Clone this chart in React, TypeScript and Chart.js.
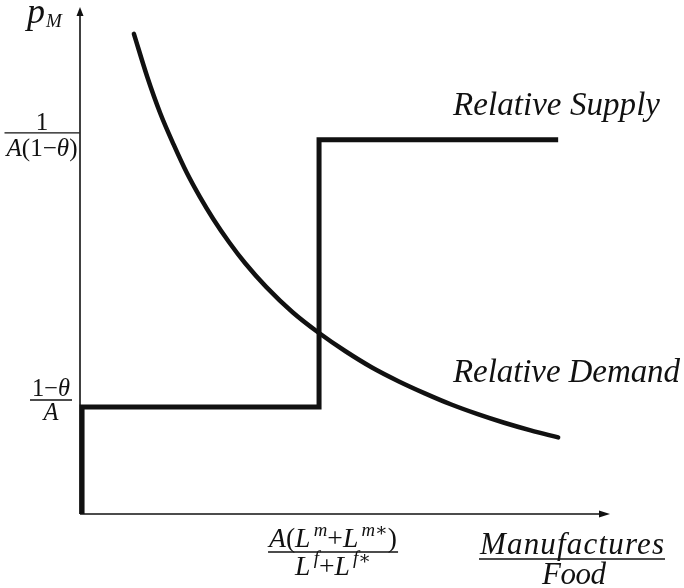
import React, { useEffect, useRef } from "react";
import { Chart, registerables } from "chart.js";

Chart.register(...registerables);

// ---- data (abstract units: x 0..100, y 0..100) ----
const xRange = [0, 100];
const yRange = [0, 100];

// Relative Supply (step function)
const supplyX = [0.2, 0.2, 45.0, 45.0, 90.2];
const supplyY = [0, 21.1, 21.1, 73.8, 73.8];

// Relative Demand (downward sloping curve)
const demandX = [10, 12.5, 15, 17.5, 20, 22.5, 25, 28, 31, 35, 40, 45, 50, 55, 60, 65, 70, 75, 80, 85, 90.2];
const demandY = [94.7, 86.3, 79.0, 72.9, 67.3, 62.5, 58.2, 53.6, 49.5, 44.8, 39.8, 35.7, 32.1, 28.9, 26.2, 23.8, 21.6, 19.7, 18.0, 16.5, 15.1];

// tick positions (levels of the step / location of the jump)
const yTickValues = [73.8, 21.1];
const xTickValues = [45.0];

const seriesLabels = ["Relative Supply", "Relative Demand"];
const axisTitleY = ["p", "M"];
const axisTitleX = ["Manufactures", "Food"];

type Seg = { t: string; it?: boolean; sup?: boolean; sub?: boolean };

// y tick labels as fractions [numerator, denominator]
const yTickLabels: Seg[][][] = [
  [[{ t: "1" }], [{ t: "A", it: true }, { t: "(1" }, { t: "−" }, { t: "θ", it: true }, { t: ")" }]],
  [[{ t: "1" }, { t: "−" }, { t: "θ", it: true }], [{ t: "A", it: true }]],
];
// x tick label as fraction
const xTickLabels: Seg[][][] = [
  [
    [
      { t: "A", it: true }, { t: "(" }, { t: "L", it: true }, { t: "m", it: true, sup: true },
      { t: "+" }, { t: "L", it: true }, { t: "m∗", it: true, sup: true }, { t: ")" },
    ],
    [
      { t: "L", it: true }, { t: "f", it: true, sup: true }, { t: "+" }, { t: "L", it: true },
      { t: "f∗", it: true, sup: true },
    ],
  ],
];

const FONT = '"Liberation Serif", "DejaVu Serif", serif';

function segFont(s: Seg, size: number) {
  const sz = s.sup || s.sub ? size * 0.68 : size;
  return `${s.it ? "italic " : ""}${sz}px ${FONT}`;
}

function segPad(s: Seg, size: number) {
  return s.sup ? size * 0.12 : 0;
}

function richWidth(ctx: CanvasRenderingContext2D, segs: Seg[], size: number) {
  let w = 0;
  for (const s of segs) {
    ctx.font = segFont(s, size);
    w += ctx.measureText(s.t).width + segPad(s, size);
  }
  return w;
}

function drawRich(ctx: CanvasRenderingContext2D, segs: Seg[], cx: number, baseline: number, size: number) {
  const total = richWidth(ctx, segs, size);
  let x = cx - total / 2;
  ctx.textAlign = "left";
  ctx.textBaseline = "alphabetic";
  for (const s of segs) {
    ctx.font = segFont(s, size);
    const dy = s.sup ? -size * 0.4 : s.sub ? size * 0.28 : 0;
    x += segPad(s, size);
    ctx.fillText(s.t, x, baseline + dy);
    x += ctx.measureText(s.t).width;
  }
  return total;
}

function drawFraction(
  ctx: CanvasRenderingContext2D,
  frac: Seg[][],
  cx: number,
  barY: number,
  targetW: number,
  fitIdx: number,
  barW: number,
  numGap: number,
  denGap: number
) {
  const w20 = richWidth(ctx, frac[fitIdx], 20);
  const size = (20 * targetW) / w20;
  drawRich(ctx, frac[0], cx, barY - numGap, size);
  drawRich(ctx, frac[1], cx, barY + denGap, size);
  ctx.save();
  ctx.strokeStyle = "#111";
  ctx.lineWidth = 1.3;
  ctx.beginPath();
  ctx.moveTo(cx - barW / 2, barY);
  ctx.lineTo(cx + barW / 2, barY);
  ctx.stroke();
  ctx.restore();
}

function spacedText(
  ctx: CanvasRenderingContext2D,
  text: string,
  x: number,
  baseline: number,
  size: number,
  width: number,
  align: "left" | "center"
) {
  const c: any = ctx;
  c.letterSpacing = "0px";
  ctx.font = `italic ${size}px ${FONT}`;
  const w = ctx.measureText(text).width;
  const ls = text.length > 1 ? (width - w) / (text.length - 1) : 0;
  c.letterSpacing = `${ls}px`;
  ctx.textAlign = "left";
  ctx.textBaseline = "alphabetic";
  const startX = align === "center" ? x - width / 2 : x;
  ctx.fillText(text, startX, baseline);
  c.letterSpacing = "0px";
}

const decorPlugin = {
  id: "decor",
  beforeDatasetsDraw(chart: any) {
    const ctx: CanvasRenderingContext2D = chart.ctx;
    const xs = chart.scales.x;
    const ys = chart.scales.y;
    const x0 = xs.getPixelForValue(xRange[0]) - 1;
    const y0 = ys.getPixelForValue(yRange[0]);
    const xEnd = xs.getPixelForValue(xRange[1]);
    const yTop = ys.getPixelForValue(yRange[1]);
    ctx.save();
    ctx.strokeStyle = "#111";
    ctx.fillStyle = "#111";
    ctx.lineWidth = 1.6;
    // y axis
    ctx.beginPath();
    ctx.moveTo(x0, y0);
    ctx.lineTo(x0, yTop + 6);
    ctx.stroke();
    ctx.beginPath();
    ctx.moveTo(x0, yTop);
    ctx.lineTo(x0 - 3.5, yTop + 9);
    ctx.lineTo(x0 + 3.5, yTop + 9);
    ctx.closePath();
    ctx.fill();
    // x axis
    ctx.beginPath();
    ctx.moveTo(x0, y0);
    ctx.lineTo(xEnd - 6, y0);
    ctx.stroke();
    ctx.beginPath();
    ctx.moveTo(xEnd, y0);
    ctx.lineTo(xEnd - 11, y0 - 3.5);
    ctx.lineTo(xEnd - 11, y0 + 3.5);
    ctx.closePath();
    ctx.fill();
    ctx.restore();
  },
  afterDraw(chart: any) {
    const ctx: CanvasRenderingContext2D = chart.ctx;
    const xs = chart.scales.x;
    const ys = chart.scales.y;
    ctx.save();
    ctx.fillStyle = "#111";

    // y axis title p_M
    ctx.font = `italic 36px ${FONT}`;
    ctx.textAlign = "left";
    ctx.textBaseline = "alphabetic";
    ctx.fillText(axisTitleY[0], 27, 23);
    const pw = ctx.measureText(axisTitleY[0]).width;
    ctx.font = `italic 19px ${FONT}`;
    ctx.fillText(axisTitleY[1], 27 + pw + 1, 27);

    // y tick fractions
    const yb0 = ys.getPixelForValue(yTickValues[0]) - 7;
    drawFraction(ctx, yTickLabels[0], 42, yb0, 71, 1, 75, 3, 23);
    const yb1 = ys.getPixelForValue(yTickValues[1]) - 7;
    drawFraction(ctx, yTickLabels[1], 51, yb1, 38, 0, 42, 4, 20);

    // x tick fraction
    const xp = xs.getPixelForValue(xTickValues[0]) + 14;
    drawFraction(ctx, xTickLabels[0], xp, 552, 128, 0, 130, 5, 23);

    // x axis title (fraction)
    const cx = 572;
    spacedText(ctx, axisTitleX[0], cx, 554, 31, 184, "center");
    spacedText(ctx, axisTitleX[1], cx + 2, 584, 31, 64, "center");
    ctx.strokeStyle = "#111";
    ctx.lineWidth = 1.4;
    ctx.beginPath();
    ctx.moveTo(479, 559);
    ctx.lineTo(665, 559);
    ctx.stroke();

    // series labels
    spacedText(ctx, seriesLabels[0], 453, 115, 33, 207, "left");
    spacedText(ctx, seriesLabels[1], 453, 382, 33, 227, "left");
    ctx.restore();
  },
};

export default function App() {
  const ref = useRef<HTMLCanvasElement | null>(null);
  useEffect(() => {
    if (!ref.current) return;
    const supplyData = supplyX.map((x, i) => ({ x, y: supplyY[i] }));
    const demandData = demandX.map((x, i) => ({ x, y: demandY[i] }));
    const chart = new Chart(ref.current, {
      type: "scatter",
      data: {
        datasets: [
          {
            label: seriesLabels[0],
            data: supplyData,
            showLine: true,
            borderColor: "#111",
            borderWidth: 5,
            pointRadius: 0,
            tension: 0,
            borderJoinStyle: "miter",
            borderCapStyle: "butt",
            clip: false,
          } as any,
          {
            label: seriesLabels[1],
            data: demandData,
            showLine: true,
            borderColor: "#111",
            borderWidth: 4.5,
            pointRadius: 0,
            cubicInterpolationMode: "monotone",
            borderCapStyle: "round",
            clip: false,
          } as any,
        ],
      },
      options: {
        responsive: false,
        animation: false,
        layout: { padding: { left: 81, right: 74, top: 7, bottom: 74 } },
        plugins: { legend: { display: false }, tooltip: { enabled: false } },
        scales: {
          x: { type: "linear", min: xRange[0], max: xRange[1], display: false },
          y: { type: "linear", min: yRange[0], max: yRange[1], display: false },
        },
      },
      plugins: [decorPlugin],
    });
    return () => chart.destroy();
  }, []);
  return (
    <div style={{ position: "absolute", left: 0, top: 0, width: 684, height: 588, background: "#fff" }}>
      <canvas ref={ref} width={684} height={588} />
    </div>
  );
}
